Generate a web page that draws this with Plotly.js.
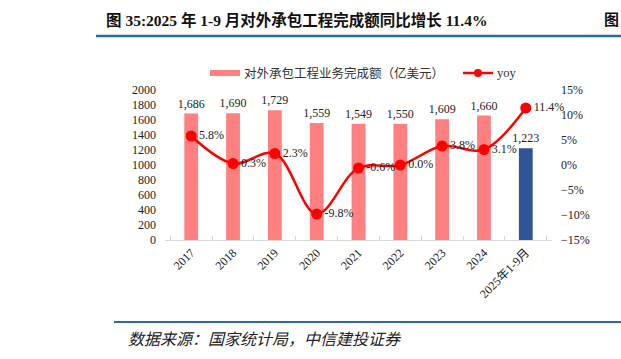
<!DOCTYPE html>
<html>
<head>
<meta charset="utf-8">
<script src="https://cdn.plot.ly/plotly-3.0.1.min.js"></script>
<style>html,body{margin:0;padding:0;background:#fff;}#chart{width:621px;height:359px;}</style>
</head>
<body>
<div id="chart"></div>
<script>
const categories = ['2017','2018','2019','2020','2021','2022','2023','2024','2025年1-9月'];
const amounts = [1686, 1690, 1729, 1559, 1549, 1550, 1609, 1660, 1223];
const yoy = [5.8, 0.3, 2.3, -9.8, -0.6, 0.0, 3.8, 3.1, 11.4];
const barName = '对外承包工程业务完成额（亿美元）';
const lineName = 'yoy';

const FONT = 'Liberation Serif, Times New Roman, Noto Sans CJK SC, serif';
const barColors = categories.map((c, i) => i === categories.length - 1 ? '#2F5597' : '#FF8080');

const px = v => (v - 165) / 387;
const py = v => (240 - v) / 150;

const traces = [
  {
    type: 'bar', x: categories, y: amounts, name: barName,
    marker: {color: barColors}, width: 0.33,
    texttemplate: '%{y:,}', textposition: 'outside', cliponaxis: false, constraintext: 'none',
    textfont: {family: FONT, size: 12, color: '#222'},
    hoverinfo: 'skip'
  },
  {
    type: 'scatter', mode: 'lines+markers+text', x: categories, y: yoy, name: lineName,
    yaxis: 'y2', line: {color: '#FF0000', width: 2.5, shape: 'spline', smoothing: 1},
    marker: {color: '#FF0000', size: 11},
    text: yoy.map(v => v.toFixed(1) + '%'), textposition: 'middle right',
    textfont: {family: FONT, size: 12, color: '#222'}, cliponaxis: false,
    hoverinfo: 'skip'
  }
];

const layout = {
  width: 621, height: 359,
  margin: {l: 165, r: 69, t: 90, b: 119},
  paper_bgcolor: '#fff', plot_bgcolor: '#fff',
  font: {family: FONT, size: 12, color: '#222'},
  showlegend: false,
  bargap: 0.67,
  uniformtext: {mode: false},
  xaxis: {
    type: 'category', showgrid: false, zeroline: false,
    showline: true, linecolor: '#d9d9d9', linewidth: 1,
    ticks: 'inside', tickson: 'boundaries', ticklen: 4, tickcolor: '#d9d9d9',
    tickangle: -45, tickfont: {family: FONT, size: 12, color: '#222'}
  },
  yaxis: {
    range: [0, 2000], dtick: 200, showgrid: false, zeroline: false, showline: false,
    ticks: '', ticklabelstandoff: 8, tickfont: {family: FONT, size: 12, color: '#222'}
  },
  yaxis2: {
    overlaying: 'y', side: 'right', range: [-15, 15], dtick: 5, ticksuffix: '%',
    showgrid: false, zeroline: false, showline: false, ticks: '', ticklabelstandoff: 8,
    tickfont: {family: FONT, size: 12, color: '#222'}
  },
  shapes: [
    {type: 'line', xref: 'paper', yref: 'paper', x0: px(96), x1: px(625), y0: py(36), y1: py(36),
     line: {color: '#2F6A9C', width: 2.5}},
    {type: 'line', xref: 'paper', yref: 'paper', x0: px(114), x1: px(625), y0: py(322), y1: py(322),
     line: {color: '#2F6A9C', width: 2}},
    // legend swatches
    {type: 'rect', xref: 'paper', yref: 'paper', x0: px(210), x1: px(240), y0: py(76), y1: py(70),
     fillcolor: '#FF8080', line: {width: 0}},
    {type: 'line', xref: 'paper', yref: 'paper', x0: px(463), x1: px(493), y0: py(73), y1: py(73),
     line: {color: '#FF0000', width: 2.5}},
    {type: 'circle', xref: 'paper', yref: 'paper', x0: px(474), x1: px(482), y0: py(77), y1: py(69),
     fillcolor: '#FF0000', line: {width: 0}}
  ],
  annotations: [
    {xref: 'paper', yref: 'paper', x: px(104), y: py(20), xanchor: 'left', yanchor: 'middle', showarrow: false,
     text: '<b>图 35:2025 年 1-9 月对外承包工程完成额同比增长 11.4%</b>',
     font: {family: FONT, size: 15.5, color: '#111'}},
    {xref: 'paper', yref: 'paper', x: px(602), y: py(20), xanchor: 'left', yanchor: 'middle', showarrow: false,
     text: '<b>图</b>', font: {family: FONT, size: 15, color: '#111'}},
    {xref: 'paper', yref: 'paper', x: px(126), y: py(339), xanchor: 'left', yanchor: 'middle', showarrow: false,
     text: '<i>数据来源：国家统计局，中信建投证券</i>',
     font: {family: FONT, size: 16, color: '#222'}},
    {xref: 'paper', yref: 'paper', x: px(242), y: py(73), xanchor: 'left', yanchor: 'middle', showarrow: false,
     text: barName, font: {family: FONT, size: 12.5, color: '#333'}},
    {xref: 'paper', yref: 'paper', x: px(495), y: py(73), xanchor: 'left', yanchor: 'middle', showarrow: false,
     text: lineName, font: {family: FONT, size: 12.5, color: '#333'}}
  ]
};

Plotly.newPlot('chart', traces, layout, {staticPlot: true, displayModeBar: false});
</script>
</body>
</html>
